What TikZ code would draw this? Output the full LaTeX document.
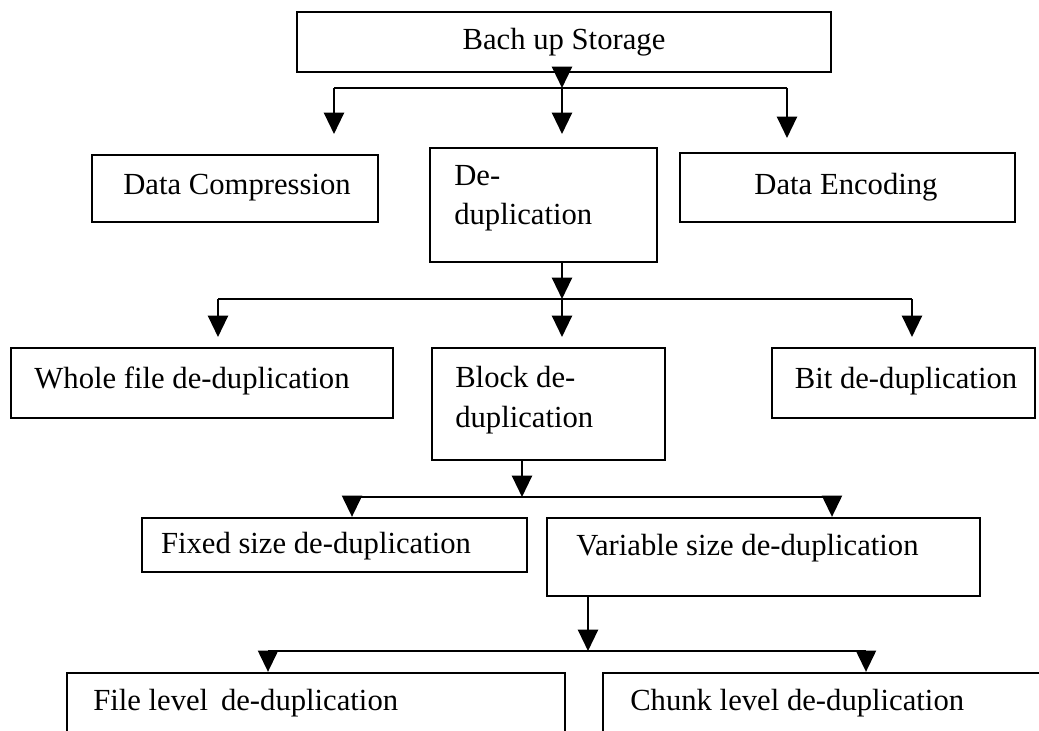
\documentclass[tikz,border=0pt]{standalone}
\usepackage{fontspec}
\setmainfont{Liberation Serif}
\usetikzlibrary{arrows.meta,fit}
\begin{document}
\begin{tikzpicture}[x=0.75pt,y=-0.75pt,
  box/.style={draw,line width=1.7pt,inner sep=0pt,fit={#1}},
  lbl/.style={font=\fontsize{23}{29.5}\selectfont,inner sep=0pt,align=left},
  link/.style={line width=1.7pt},
  arr/.style={line width=1.7pt,-{Triangle[width=15pt,length=16pt]}}]
\useasboundingbox (0,0) rectangle (1039,731);

% boxes
\node[box={(297,12) (831,72)}]   (top) {};
\node[box={(92,155) (378,222)}]  (dc)  {};
\node[box={(430,148) (657,262)}] (dd)  {};
\node[box={(680,153) (1015,222)}] (de) {};
\node[box={(11,348) (393,418)}]  (wf)  {};
\node[box={(432,348) (665,460)}] (bd)  {};
\node[box={(772,348) (1035,418)}] (bt) {};
\node[box={(142,518) (527,572)}] (fx)  {};
\node[box={(547,518) (980,596)}] (vs)  {};
\node[box={(67,673) (565,770)}]  (fl)  {};
\node[box={(603,673) (1050,770)}] (ck) {};

% labels
\node[lbl] (topt) at (564,42) {Bach up Storage};
\node[lbl] (dct) at (237,188) {Data Compression};
\node[lbl,anchor=west] (ddt) at (454,198) {De-\\duplication};
\node[lbl] (det) at (846,187) {Data Encoding};
\node[lbl] (wft) at (192,381) {Whole file de-duplication};
\node[lbl,anchor=west] (bdt) at (455,400) {Block de-\\duplication};
\node[lbl] (btt) at (906,381) {Bit de-duplication};
\node[lbl] (fxt) at (316,546) {Fixed size de-duplication};
\node[lbl,anchor=west] (vst) at (576,548) {Variable size de-duplication};
\node[lbl,anchor=west] (flt) at (93,703) {File level\, de-duplication};
\node[lbl,anchor=west] (ckt) at (630,703) {Chunk level de-duplication};

% level 1 branching
\coordinate (j1)  at (562,88);
\coordinate (j1l) at (334,88);
\coordinate (j1r) at (787,88);
\coordinate (e1l) at (334,134);
\coordinate (e1m) at (562,134);
\coordinate (e1r) at (787,138);
\draw[arr] (j1 |- top.south) ++(0,-6) -- (j1);
\draw[link] (j1l) -- (j1r);
\draw[arr] (j1l) -- (e1l);
\draw[arr] (j1) -- (e1m);
\draw[arr] (j1r) -- (e1r);

% level 2 branching
\coordinate (j2)  at (562,299);
\coordinate (j2l) at (218,299);
\coordinate (j2r) at (912,299);
\coordinate (e2l) at (218,337);
\coordinate (e2m) at (562,337);
\coordinate (e2r) at (912,337);
\draw[arr] (j2 |- dd.south) -- (j2);
\draw[link] (j2l) -- (j2r);
\draw[arr] (j2l) -- (e2l);
\draw[arr] (j2) -- (e2m);
\draw[arr] (j2r) -- (e2r);

% level 3 branching
\coordinate (j3)  at (522,497);
\coordinate (j3l) at (352,497);
\coordinate (j3r) at (832,497);
\draw[arr] (j3 |- bd.south) -- (j3);
\draw[link] (j3l) -- (j3r);
\draw[arr] (j3l) -- (j3l |- fx.north);
\draw[arr] (j3r) -- (j3r |- vs.north);

% level 4 branching
\coordinate (j4)  at (588,651);
\coordinate (j4l) at (268,651);
\coordinate (j4r) at (866,651);
\draw[arr] (j4 |- vs.south) -- (j4);
\draw[link] (j4l) -- (j4r);
\draw[arr] (j4l) -- (j4l |- fl.north);
\draw[arr] (j4r) -- (j4r |- ck.north);
\end{tikzpicture}
\end{document}
